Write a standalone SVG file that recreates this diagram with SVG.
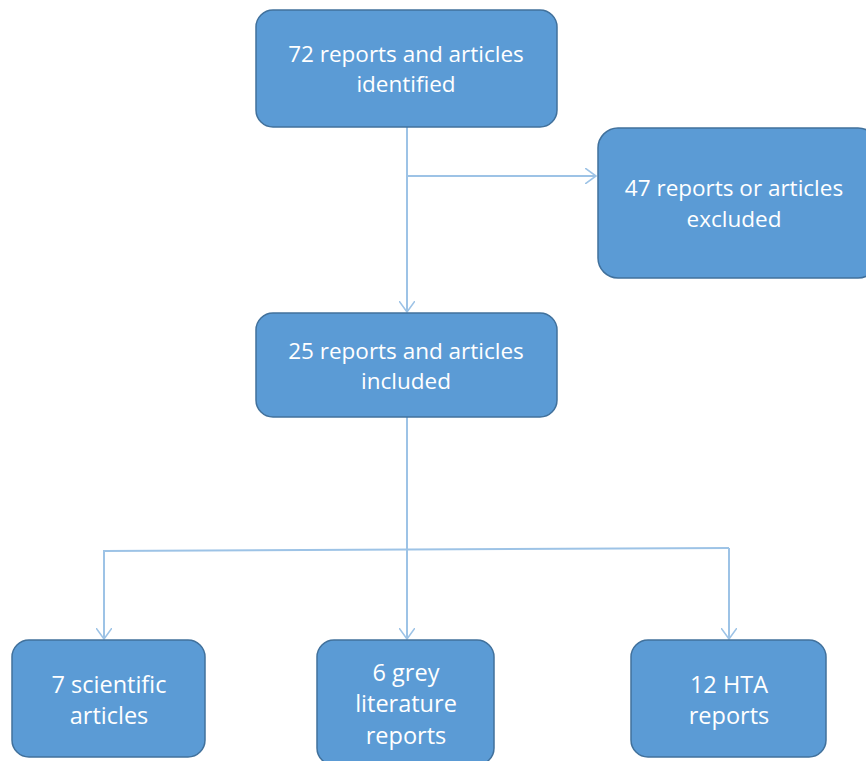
<svg xmlns="http://www.w3.org/2000/svg" width="866" height="761" viewBox="0 0 866 761">
<style>
.box{fill:#5b9bd5;stroke:#41719c;stroke-width:1.5}
.t{fill:#ffffff;font-family:"Open Sans","Liberation Sans",Arial,sans-serif;font-size:22.5px;text-anchor:middle}
.b{font-size:23.5px}
.c{fill:none;stroke:#9dc3e6;stroke-width:2}
</style>
<defs>
<marker id="ah" viewBox="0 0 12 16" refX="11" refY="8" markerWidth="12" markerHeight="16" markerUnits="userSpaceOnUse" orient="auto">
<path d="M0,0 L11,8 L0,16" fill="none" stroke="#9dc3e6" stroke-width="1.6"/>
</marker>
</defs>
<rect width="866" height="761" fill="#ffffff"/>
<g id="connectors">
<path class="c" d="M407,127 V312" marker-end="url(#ah)"/>
<path class="c" d="M407,176 H596" marker-end="url(#ah)"/>
<path class="c" d="M407,417 V639" marker-end="url(#ah)"/>
<path class="c" d="M104,551 L729,548"/>
<path class="c" d="M104,550 V639" marker-end="url(#ah)"/>
<path class="c" d="M729,548 V639" marker-end="url(#ah)"/>
</g>
<g id="identified">
<rect class="box" x="256" y="10" width="301" height="117" rx="17"/>
<text class="t" x="406" y="62">72 reports and articles</text>
<text class="t" x="406" y="92">identified</text>
</g>
<g id="excluded">
<rect class="box" x="598" y="128" width="280" height="150" rx="20"/>
<text class="t" x="734" y="196">47 reports or articles</text>
<text class="t" x="734" y="227">excluded</text>
</g>
<g id="included">
<rect class="box" x="256" y="313" width="301" height="104" rx="17"/>
<text class="t" x="406" y="359">25 reports and articles</text>
<text class="t" x="406" y="389">included</text>
</g>
<g id="scientific">
<rect class="box" x="12" y="640" width="193" height="117" rx="17"/>
<text class="t b" x="109" y="693">7 scientific</text>
<text class="t b" x="109" y="724">articles</text>
</g>
<g id="grey">
<rect class="box" x="317" y="640" width="177" height="125" rx="17"/>
<text class="t b" x="406" y="681">6 grey</text>
<text class="t b" x="406" y="712">literature</text>
<text class="t b" x="406" y="744">reports</text>
</g>
<g id="hta">
<rect class="box" x="631" y="640" width="195" height="117" rx="17"/>
<text class="t b" x="729" y="693">12 HTA</text>
<text class="t b" x="729" y="724">reports</text>
</g>
</svg>
